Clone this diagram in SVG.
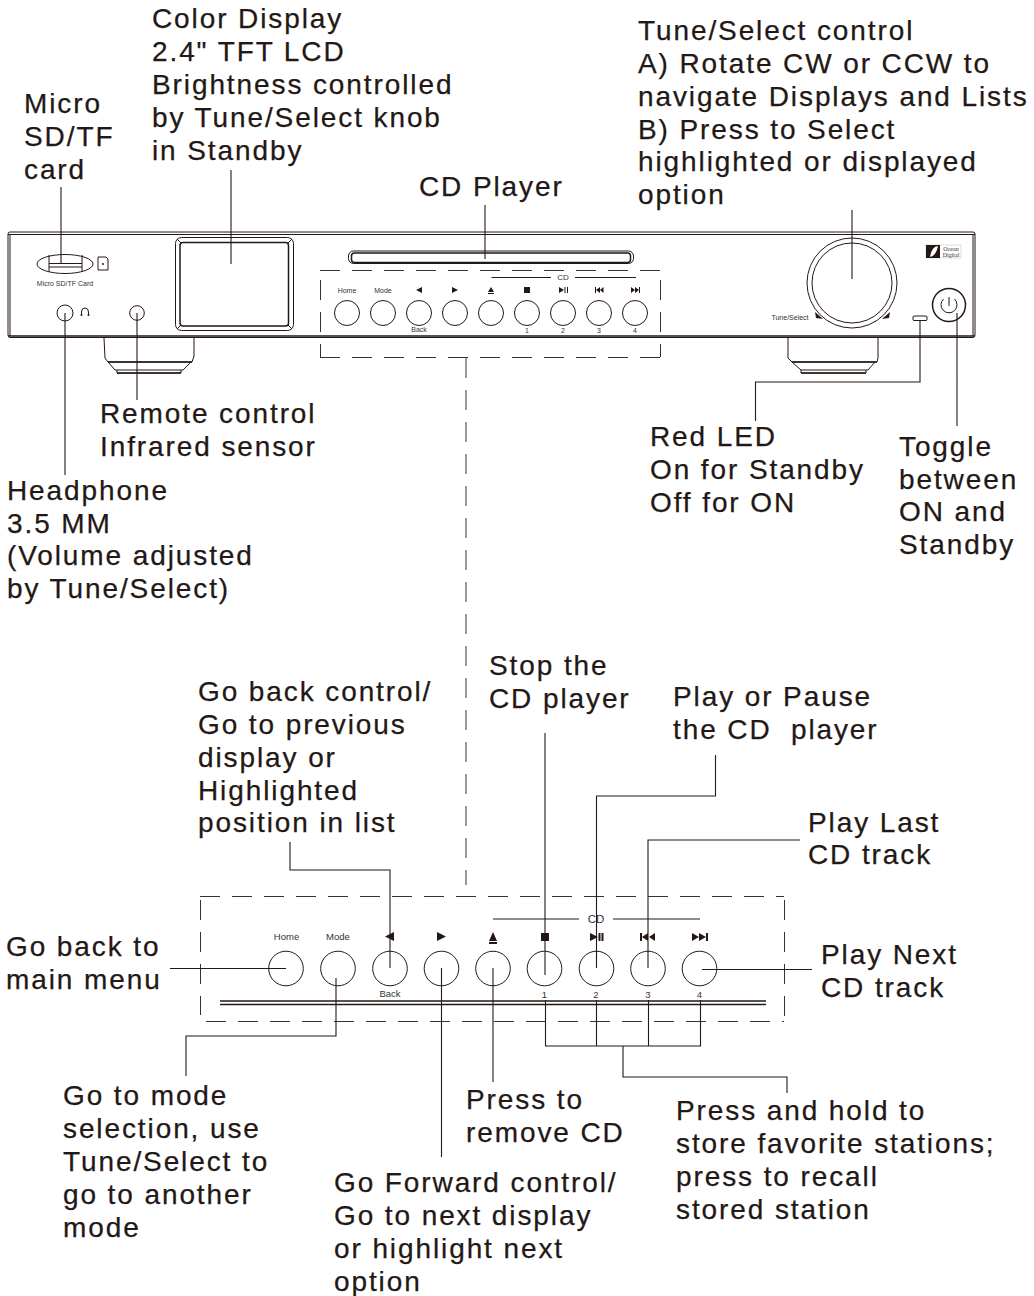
<svg xmlns="http://www.w3.org/2000/svg" width="1034" height="1296" viewBox="0 0 1034 1296">
<style>
.l{font:28px "Liberation Sans",Arial,sans-serif;letter-spacing:1.9px;fill:#231815;stroke:#231815;stroke-width:.25;white-space:pre}
.s{font:7px "Liberation Sans",Arial,sans-serif;fill:#333;text-anchor:middle}
.m{font:9.5px "Liberation Sans",Arial,sans-serif;fill:#333;text-anchor:middle}
.o{fill:none;stroke:#231815;stroke-width:1}
.t{fill:none;stroke:#231815;stroke-width:1.5}
.c{fill:none;stroke:#231815;stroke-width:1.1}
.d{fill:none;stroke:#333;stroke-width:1;stroke-dasharray:20 12}
.k{fill:#231815}
</style>
<rect width="1034" height="1296" fill="#fff"/>
<g id="device">
<path class="o" d="M10 232H973Q975 232 975 234V335Q975 337.500 973 337.500H10Q8 337.500 8 335V234Q8 232 10 232Z"/>
<path class="o" d="M8 234.500H975M10 235V336M973 235V336"/>
<path class="t" d="M8 336H975"/>
</g>
<g id="feet">
<path class="o" d="M104 338L105 358L108 362H192L194 356V338M108 362L115 370H183L191 362M117 370V373H181V370"/>
<path class="t" d="M108 362H192M117 373H181"/>
<path class="o" d="M788 338V358L792 362H877L878 358V338M792 362L801 370H868L875 362M801 370V373H866V370"/>
<path class="t" d="M792 362H877M801 373H866"/>
</g>
<g id="sd-slot">
<ellipse class="o" cx="65" cy="264" rx="28" ry="9.500"/>
<path class="o" d="M49 255V272M82 255V272M49 263.500H82M49 267H82"/>
<path class="o" d="M98 257H106L108 259V270H98Z"/>
<circle class="k" cx="103" cy="264" r="1"/>
<text class="s" x="65" y="286">Micro SD/TF Card</text>
</g>
<g id="headphone-jack">
<circle class="o" cx="65" cy="313" r="8"/>
<path class="o" d="M81.500 315V312Q81.500 308 85 308Q88.500 308 88.500 312V315"/>
<circle class="k" cx="81.500" cy="315" r="1"/><circle class="k" cx="88.500" cy="315" r="1"/>
</g>
<g id="ir-sensor"><circle class="o" cx="137" cy="313" r="7.300"/></g>
<g id="screen">
<rect class="o" x="175.500" y="237.500" width="118" height="93" rx="6"/>
<rect class="t" x="180" y="242.500" width="108.500" height="83.500" rx="3"/>
<path class="o" d="M177 239L181 243M292 239L288 243M177 329L181 325M292 329L288 325"/>
</g>
<g id="cd-slot">
<rect class="o" x="348.500" y="251" width="285" height="12.500" rx="5"/>
<rect class="t" x="351.500" y="253" width="279" height="9.500" rx="3"/>
</g>
<g id="top-buttons">
<path class="d" d="M320 270.500H660M320 357.500H660M320.500 280V357M660.500 280V357"/>
<circle class="o" cx="347" cy="313" r="12.500"/><circle class="o" cx="383" cy="313" r="12.500"/><circle class="o" cx="419" cy="313" r="12.500"/><circle class="o" cx="455" cy="313" r="12.500"/><circle class="o" cx="491" cy="313" r="12.500"/><circle class="o" cx="527" cy="313" r="12.500"/><circle class="o" cx="563" cy="313" r="12.500"/><circle class="o" cx="599" cy="313" r="12.500"/><circle class="o" cx="635" cy="313" r="12.500"/>
<text class="s" x="347" y="293">Home</text><text class="s" x="383" y="293">Mode</text><text class="s" x="419" y="332">Back</text>
<text class="s" x="527" y="333">1</text><text class="s" x="563" y="333">2</text><text class="s" x="599" y="333">3</text><text class="s" x="635" y="333">4</text>
<path class="o" d="M491.500 277.500H551M575 277.500H636"/>
<text class="s" x="563" y="280" style="font-size:8px">CD</text>
<path class="k" d="M422 287V293L416 290ZM452 287V293L458 290ZM488 292L491 287L494 292ZM488 293H494V294H488ZM524 287H530V293H524ZM559 287L564 290L559 293ZM564.500 287H565.500V293H564.500ZM567 287H568V293H567ZM595 287H596V293H595ZM600 287V293L596 290ZM603.500 287V293L600 290ZM631 287L635 290L631 293ZM635 287L639 290L635 293ZM639 287H640V293H639Z"/>
</g>
<g id="knob">
<circle class="o" cx="852" cy="283" r="45"/><circle class="o" cx="852" cy="283" r="40"/>
<path class="k" d="M815 312L823 319L816 318ZM890 312L889 318L882 319Z"/>
<text class="s" x="790" y="320">Tune/Select</text>
</g>
<g id="led"><rect class="o" x="913" y="316" width="14" height="4.500" rx="1"/></g>
<g id="power">
<circle class="t" cx="949" cy="305" r="16.500"/>
<path class="o" d="M943.500 299A8 8 0 1 0 954.500 299M949 297V306"/>
</g>
<g id="logo">
<rect x="926" y="245" width="35" height="13" fill="#fff" stroke="#bbb" stroke-width=".5"/>
<rect class="k" x="926" y="245" width="14" height="13"/>
<path d="M930 257Q932 246 938 246Q936 256 930 257Z" fill="#fff"/>
<text x="951" y="250.500" style="font:6px 'Liberation Serif',serif;text-anchor:middle" fill="#333">Ocean</text>
<text x="951" y="256.500" style="font:6px 'Liberation Serif',serif;text-anchor:middle" fill="#333">Digital</text>
</g>
<g id="bottom-panel">
<path class="d" d="M200 896.500H784M206 1021.500H784M200.500 900V1015M784.500 900V1021"/>
<circle class="o" cx="286" cy="968.500" r="17.300"/><circle class="o" cx="338" cy="968.500" r="17.300"/><circle class="o" cx="390" cy="968.500" r="17.300"/><circle class="o" cx="441.500" cy="968.500" r="17.300"/><circle class="o" cx="493" cy="968.500" r="17.300"/><circle class="o" cx="544.500" cy="968.500" r="17.300"/><circle class="o" cx="596.500" cy="968.500" r="17.300"/><circle class="o" cx="648" cy="968.500" r="17.300"/><circle class="o" cx="699.500" cy="968.500" r="17.300"/>
<text class="m" x="286.500" y="940">Home</text><text class="m" x="338" y="940">Mode</text><text class="m" x="390" y="997">Back</text>
<text class="m" x="544.500" y="998">1</text><text class="m" x="596" y="998">2</text><text class="m" x="648" y="998">3</text><text class="m" x="699.500" y="998">4</text>
<path class="o" d="M493 919H579M613 919H700"/>
<text class="m" x="596" y="923" style="font-size:11.500px">CD</text>
<path class="k" d="M394 932V941L385 936.500ZM437 932V941L446 936.500ZM489 941L493 932L497 941ZM489 942H497V944H489ZM541 933H549V941H541ZM590 933L598 937L590 941ZM598.500 933H600.500V941H598.500ZM601.500 933H603.500V941H601.500ZM640 933H642V941H640ZM648 933V941L642 937ZM655 933V941L649 937ZM692 933L699 937L692 941ZM699 933L706 937L699 941ZM706 933H708V941H706Z"/>
<path class="t" d="M220 1001H766M220 1004.500H766"/>
</g>
<g id="connectors">
<path class="c" d="M61 187V264M231 170V264M485 205V259M852 210V279M65 313V475M137 313V400M920 320V382H755.500V421M957 313V426"/>
<path class="d" d="M466 358V885"/>
<path class="c" d="M170 968.500H286M336 978V1036H186V1076M290 842V870H390V968M441.500 968V1157M493 968V1082M545 733V975M596.500 968V796H715.500V755M648 968V840H800M702 969.500H812M545.500 1000V1046H700.500V1000M596.500 1000V1046M648.500 1000V1046M623 1046V1077H787V1093"/>
</g>
<g id="labels">
<text class="l" x="152" y="28">Color Display</text>
<text class="l" x="152" y="61">2.4" TFT LCD</text>
<text class="l" x="152" y="94">Brightness controlled</text>
<text class="l" x="152" y="127">by Tune/Select knob</text>
<text class="l" x="152" y="160">in Standby</text>
<text class="l" x="24" y="113">Micro</text>
<text class="l" x="24" y="146">SD/TF</text>
<text class="l" x="24" y="179">card</text>
<text class="l" x="419" y="196">CD Player</text>
<text class="l" x="638" y="40">Tune/Select control</text>
<text class="l" x="638" y="73">A) Rotate CW or CCW to</text>
<text class="l" x="638" y="106">navigate Displays and Lists</text>
<text class="l" x="638" y="139">B) Press to Select</text>
<text class="l" x="638" y="171">highlighted or displayed</text>
<text class="l" x="638" y="204">option</text>
<text class="l" x="100" y="423">Remote control</text>
<text class="l" x="100" y="456">Infrared sensor</text>
<text class="l" x="7" y="500">Headphone</text>
<text class="l" x="7" y="533">3.5 MM</text>
<text class="l" x="7" y="565">(Volume adjusted</text>
<text class="l" x="7" y="598">by Tune/Select)</text>
<text class="l" x="650" y="446">Red LED</text>
<text class="l" x="650" y="479">On for Standby</text>
<text class="l" x="650" y="512">Off for ON</text>
<text class="l" x="899" y="456">Toggle</text>
<text class="l" x="899" y="489">between</text>
<text class="l" x="899" y="521">ON and</text>
<text class="l" x="899" y="554">Standby</text>
<text class="l" x="198" y="701">Go back control/</text>
<text class="l" x="198" y="734">Go to previous</text>
<text class="l" x="198" y="767">display or</text>
<text class="l" x="198" y="800">Highlighted</text>
<text class="l" x="198" y="832">position in list</text>
<text class="l" x="489" y="675">Stop the</text>
<text class="l" x="489" y="708">CD player</text>
<text class="l" x="673" y="706">Play or Pause</text>
<text class="l" x="673" y="739">the CD  player</text>
<text class="l" x="808" y="832">Play Last</text>
<text class="l" x="808" y="864">CD track</text>
<text class="l" x="6" y="956">Go back to</text>
<text class="l" x="6" y="989">main menu</text>
<text class="l" x="821" y="964">Play Next</text>
<text class="l" x="821" y="997">CD track</text>
<text class="l" x="63" y="1105">Go to mode</text>
<text class="l" x="63" y="1138">selection, use</text>
<text class="l" x="63" y="1171">Tune/Select to</text>
<text class="l" x="63" y="1204">go to another</text>
<text class="l" x="63" y="1237">mode</text>
<text class="l" x="466" y="1109">Press to</text>
<text class="l" x="466" y="1142">remove CD</text>
<text class="l" x="676" y="1120">Press and hold to</text>
<text class="l" x="676" y="1153">store favorite stations;</text>
<text class="l" x="676" y="1186">press to recall</text>
<text class="l" x="676" y="1219">stored station</text>
<text class="l" x="334" y="1192">Go Forward control/</text>
<text class="l" x="334" y="1225">Go to next display</text>
<text class="l" x="334" y="1258">or highlight next</text>
<text class="l" x="334" y="1291">option</text>
</g>
</svg>
